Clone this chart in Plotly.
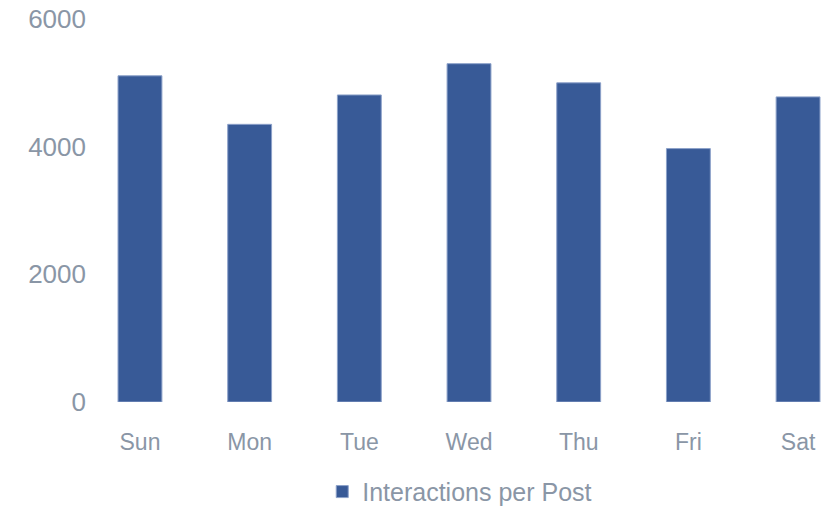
import plotly.graph_objects as go

days = ["Sun", "Mon", "Tue", "Wed", "Thu", "Fri", "Sat"]
interactions = [5110, 4350, 4810, 5300, 5000, 3970, 4780]
y_ticks = [0, 2000, 4000, 6000]

BAR = "#385A97"
EDGE = "#8CA1C9"
TEXT = "#8A96A6"
FONT = "Liberation Sans"

fig = go.Figure(
    go.Bar(
        x=days,
        y=interactions,
        name="Interactions per Post",
        marker=dict(color=BAR, line=dict(color=EDGE, width=1)),
    )
)

fig.update_layout(
    width=837,
    height=506,
    margin=dict(l=95, r=0, t=19, b=104),
    paper_bgcolor="white",
    plot_bgcolor="white",
    bargap=0.6,
    showlegend=True,
    font=dict(family=FONT, size=24, color=TEXT),
    legend=dict(
        orientation="h",
        xref="container",
        yref="container",
        x=0.385,
        xanchor="left",
        y=0.028,
        yanchor="middle",
        font=dict(size=25, color=TEXT),
        itemwidth=30,
    ),
)

fig.update_xaxes(
    range=[-0.41, 6.355],
    showgrid=False,
    showline=False,
    zeroline=False,
    ticks="",
    ticklabelstandoff=24,
    tickfont=dict(size=23, color=TEXT),
)
fig.update_yaxes(
    range=[0, 6000],
    tickvals=y_ticks,
    ticktext=[str(v) for v in y_ticks],
    showgrid=False,
    showline=False,
    zeroline=False,
    ticks="",
    ticklabelstandoff=8,
    tickfont=dict(size=26, color=TEXT),
)

fig.write_html("out.html")
